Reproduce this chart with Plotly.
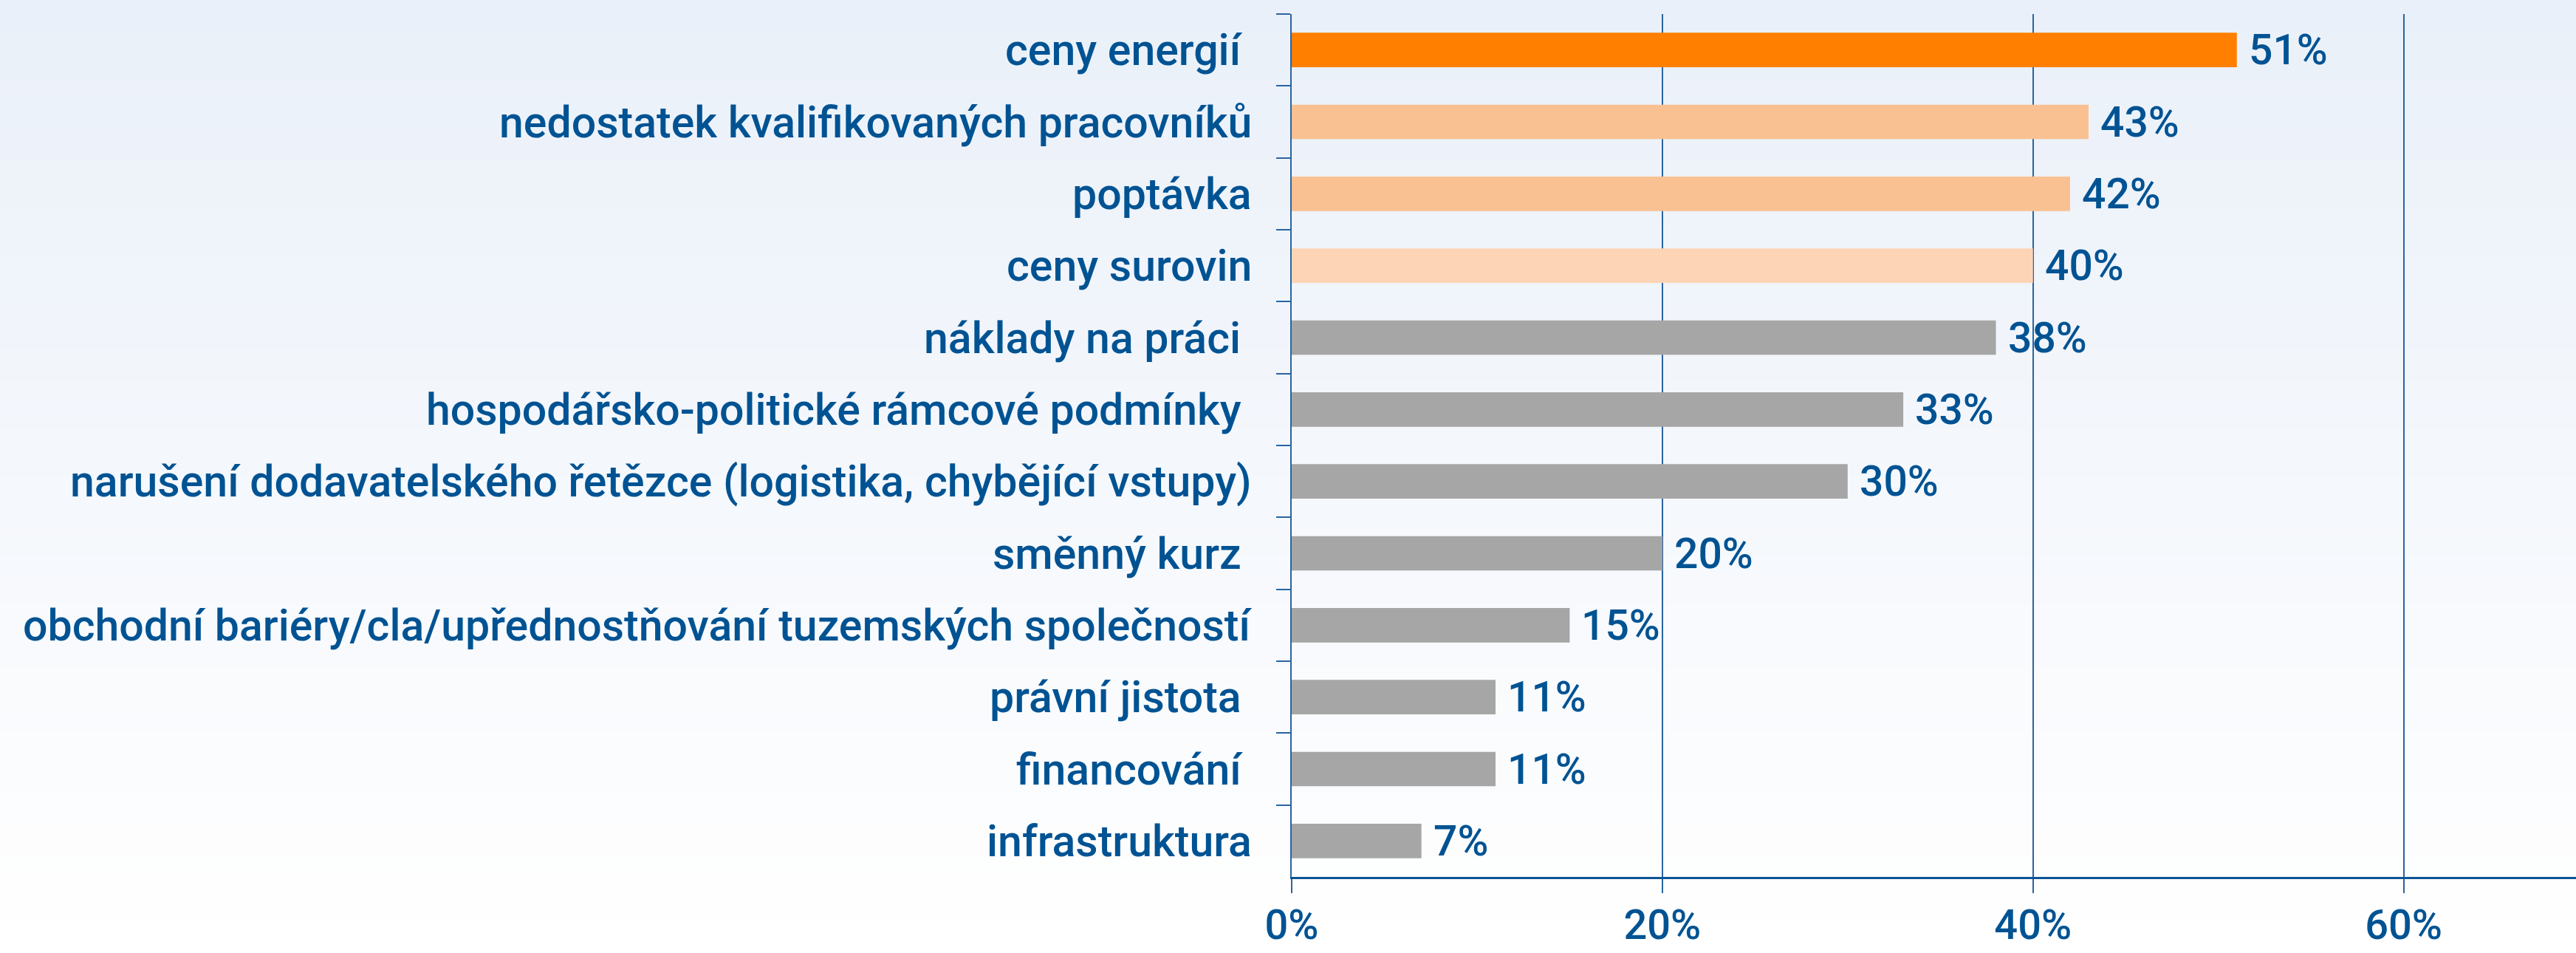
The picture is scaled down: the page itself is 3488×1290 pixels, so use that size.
import plotly.graph_objects as go

# bariéry podnikání, podíl odpovědí (%)
categories = [
    "ceny energií\u00a0",
    "nedostatek kvalifikovaných pracovníků",
    "poptávka",
    "ceny surovin",
    "náklady na práci\u00a0",
    "hospodářsko-politické rámcové podmínky\u00a0",
    "narušení dodavatelského řetězce (logistika, chybějící vstupy)",
    "směnný kurz\u00a0",
    "obchodní bariéry/cla/upřednostňování tuzemských společností",
    "právní jistota\u00a0",
    "financování\u00a0",
    "infrastruktura",
]
values = [51, 43, 42, 40, 38, 33, 30, 20, 15, 11, 11, 7]
bar_colors = ["#FF7F00", "#F9C192", "#F9C192", "#FDD5B6"] + ["#A6A6A6"] * 8

x_ticks = [0, 20, 40, 60]
x_tick_labels = ["0%", "20%", "40%", "60%"]

W, H = 3488, 1290
M_L, M_R, M_T, M_B = 1749, 0, 19, 103
BLUE = "#005393"
LINE = "#2A64A0"
FONT = "Roboto"

fig = go.Figure()
fig.add_trace(go.Bar(
    x=values,
    y=categories,
    orientation="h",
    marker=dict(color=bar_colors, line_width=0),
    width=0.48,
    hoverinfo="skip",
))

# názvy kategorií vlevo od osy
for c in categories:
    fig.add_annotation(
        x=0, y=c, text=c, showarrow=False,
        xanchor="right", yanchor="middle", xshift=-52,
        font=dict(family=FONT, size=59, color=BLUE, weight=500),
    )

# popisky hodnot za koncem sloupců
for c, v in zip(categories, values):
    fig.add_annotation(
        x=v, y=c, text=f"{v}%", showarrow=False,
        xanchor="left", yanchor="middle", xshift=14,
        font=dict(family=FONT, size=57, color=BLUE, weight=500),
    )

# svislý přechod pozadí (světle modrá -> bílá)
plot_w = W - M_L - M_R
plot_h = H - M_T - M_B
n_bands = 60
top = (234, 240, 249)
bottom = (255, 255, 255)
for i in range(n_bands):
    t = i / (n_bands - 1)
    col = tuple(round(top[k] + (bottom[k] - top[k]) * t) for k in range(3))
    py0 = H * i / n_bands
    py1 = H * (i + 1) / n_bands + 1
    fig.add_shape(
        type="rect", layer="below", xref="paper", yref="paper",
        x0=-M_L / plot_w - 0.01, x1=1 + 0.01,
        y0=(H - M_B - py1) / plot_h, y1=(H - M_B - py0) / plot_h,
        fillcolor="rgb(%d,%d,%d)" % col, line_width=0,
    )

fig.update_layout(
    width=W, height=H,
    margin=dict(l=M_L, r=M_R, t=M_T, b=M_B, autoexpand=False),
    paper_bgcolor="white",
    plot_bgcolor="rgba(0,0,0,0)",
    showlegend=False,
    bargap=0.52,
    font=dict(family=FONT, size=56, color=BLUE, weight=500),
)
fig.update_xaxes(
    range=[0, 69.3],
    automargin=False,
    tickvals=x_ticks, ticktext=x_tick_labels,
    showgrid=True, gridcolor=LINE, gridwidth=1.5,
    zeroline=False,
    showline=True, linecolor="#0B5394", linewidth=3,
    ticks="outside", ticklen=19, tickcolor=LINE, tickwidth=1.5,
    ticklabelstandoff=-5,
    tickfont=dict(family=FONT, size=56, color=BLUE, weight=500),
    fixedrange=True,
)
fig.update_yaxes(
    type="category",
    autorange="reversed",
    automargin=False,
    showgrid=False, zeroline=False,
    showline=True, linecolor=LINE, linewidth=1.5,
    ticks="outside", tickson="boundaries", ticklen=19,
    tickcolor=LINE, tickwidth=1.5,
    showticklabels=False,
    fixedrange=True,
)

fig.write_html(
    "out.html",
    config={"displayModeBar": False},
    post_script="document.body.style.margin='0';document.body.style.overflow='hidden';",
)
